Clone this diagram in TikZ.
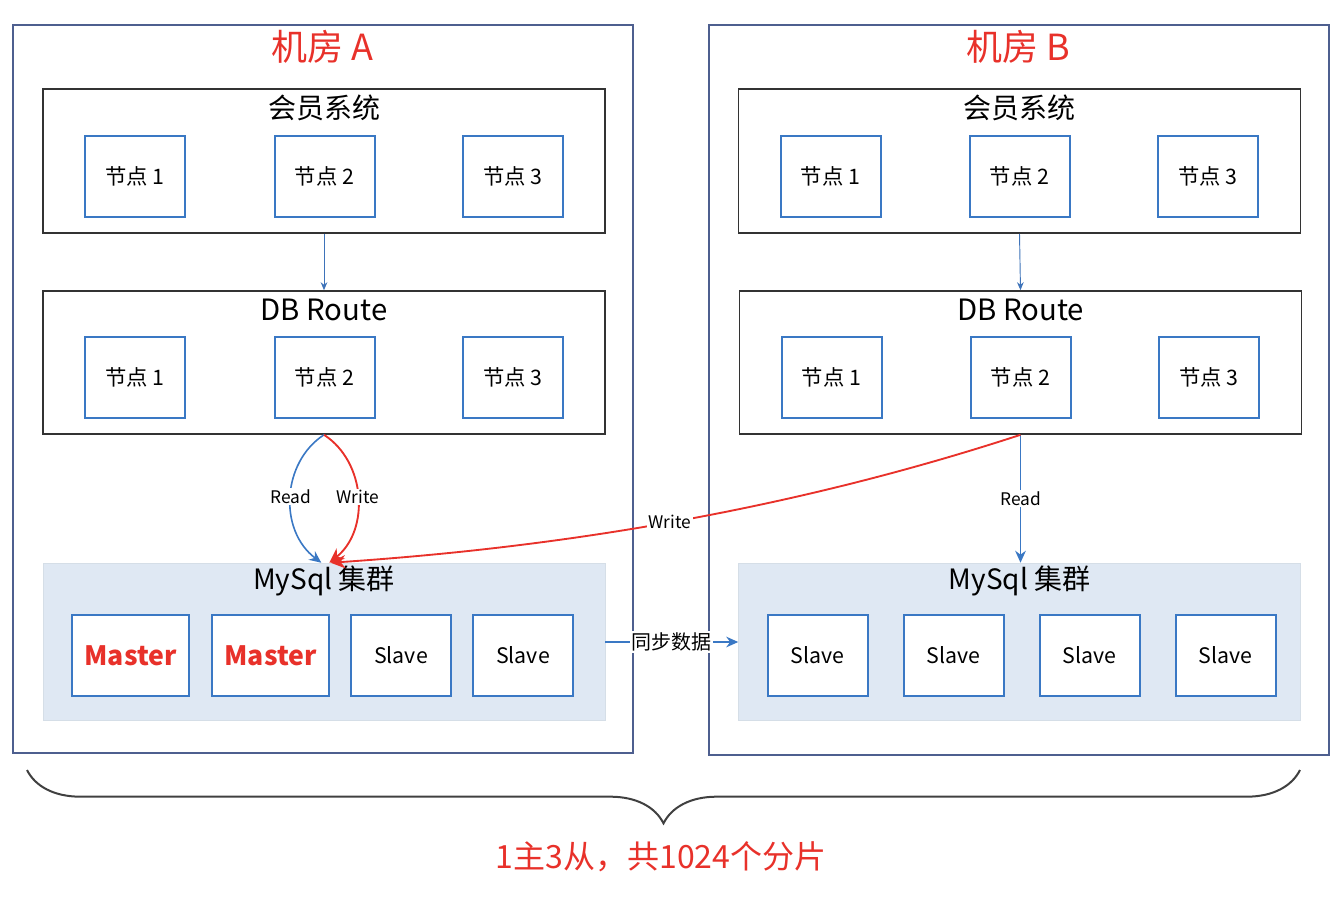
\documentclass[tikz,border=0pt]{standalone}
\usepackage{fontspec}
\setmainfont{Noto Sans CJK SC}
\usetikzlibrary{arrows.meta,decorations.pathreplacing}
\definecolor{roomc}{HTML}{4E5F8F}
\definecolor{nodeblue}{HTML}{3A78C4}
\definecolor{redc}{HTML}{E8312A}
\definecolor{clusterfill}{HTML}{DFE8F3}
\definecolor{groupc}{HTML}{333333}
\begin{document}
\begin{tikzpicture}[x=0.75pt,y=-0.75pt,
  room/.style={draw=roomc,line width=1.3pt,minimum width=465pt,minimum height=546pt,inner sep=0pt},
  group/.style={draw=groupc,line width=1.2pt,minimum width=421.5pt,minimum height=108pt,inner sep=0pt},
  cluster/.style={fill=clusterfill,draw=clusterfill!90!gray,line width=0.4pt,minimum width=421.5pt,minimum height=117.75pt,inner sep=0pt},
  nodebox/.style={draw=nodeblue,line width=1.5pt,fill=white,minimum width=75pt,minimum height=60.75pt,inner sep=0pt,font=\fontsize{16}{16}\selectfont},
  masterbox/.style={nodebox,minimum width=87.75pt,text=redc,font=\fontsize{20}{20}\selectfont\bfseries},
  slavebox/.style={nodebox,font=\fontsize{16}{16}\selectfont},
  roomtitle/.style={text=redc,font=\fontsize{27}{27}\selectfont},
  grouptitle/.style={font=\fontsize{21}{21}\selectfont},
  lbl/.style={fill=white,inner sep=1pt,font=\fontsize{13}{13}\selectfont},
  bluearrow/.style={draw=nodeblue,line width=1.2pt,-{Stealth[length=9pt,width=8pt]}},
  thinarrow/.style={draw=nodeblue!80!roomc,line width=0.7pt,-{Stealth[length=6pt,width=5pt]}},
  redarrow/.style={draw=redc,line width=1.4pt,-{Stealth[length=11pt,width=10pt]}}
]
\useasboundingbox (0,0) rectangle (1342,908);
% rooms
\node[room] (roomA) at (323,389) {};
\node[room,minimum height=547.5pt] (roomB) at (1019,390) {};
\node[roomtitle] (titleA) at (322,47) {机房 A};
\node[roomtitle] (titleB) at (1018,47) {机房 B};
% --- Room A ---
\node[group] (vipA) at (324,161) {};
\node[grouptitle] (vipAt) at (324,108) {会员系统};
\node[nodebox] (vA1) at (135,176.5) {节点 1};
\node[nodebox] (vA2) at (324.5,176.5) {节点 2};
\node[nodebox] (vA3) at (513,176.5) {节点 3};
\node[group,minimum height=107.25pt] (dbA) at (324,362.5) {};
\node[grouptitle,font=\fontsize{22}{22}\selectfont] (dbAt) at (324,310) {DB Route};
\node[nodebox] (dA1) at (135,377.5) {节点 1};
\node[nodebox] (dA2) at (324.5,377.5) {节点 2};
\node[nodebox] (dA3) at (513,377.5) {节点 3};
\node[cluster] (myA) at (324,641.5) {};
\node[grouptitle] (myAt) at (324,581) {MySql 集群};
\node[masterbox] (mA1) at (130.5,655.5) {Master};
\node[masterbox] (mA2) at (270.5,655.5) {Master};
\node[slavebox] (sA1) at (401,655.5) {Slave};
\node[slavebox] (sA2) at (523,655.5) {Slave};
% --- Room B ---
\node[group] (vipB) at (1019.5,161) {};
\node[grouptitle] (vipBt) at (1019.5,108) {会员系统};
\node[nodebox] (vB1) at (830.5,176.5) {节点 1};
\node[nodebox] (vB2) at (1019.5,176.5) {节点 2};
\node[nodebox] (vB3) at (1208,176.5) {节点 3};
\node[group,minimum height=107.25pt] (dbB) at (1020.5,362.5) {};
\node[grouptitle,font=\fontsize{22}{22}\selectfont] (dbBt) at (1020.5,310) {DB Route};
\node[nodebox] (dB1) at (831.5,377.5) {节点 1};
\node[nodebox] (dB2) at (1020.5,377.5) {节点 2};
\node[nodebox] (dB3) at (1209,377.5) {节点 3};
\node[cluster] (myB) at (1019.5,641.5) {};
\node[grouptitle] (myBt) at (1019.5,581) {MySql 集群};
\node[slavebox] (sB1) at (817.5,655.5) {Slave};
\node[slavebox] (sB2) at (953.5,655.5) {Slave};
\node[slavebox] (sB3) at (1089.5,655.5) {Slave};
\node[slavebox] (sB4) at (1225.5,655.5) {Slave};
% --- connectors ---
\draw[thinarrow] (vipA.south) -- (dbA.north);
\draw[thinarrow] (vipB.south) -- (dbB.north);
\draw[bluearrow] (dbA.south) .. controls (282,462) and (278,530) .. ([xshift=-2pt]myA.north)
  node[lbl,pos=0.5] {Read};
\draw[redarrow] (dbA.south) .. controls (366,462) and (370,530) .. ([xshift=4pt]myA.north)
  node[lbl,pos=0.5] {Write};
\draw[bluearrow] (dbB.south) -- (dbB.south |- myB.north) node[lbl,pos=0.5] {Read};
\draw[redarrow] (dbB.south) .. controls (760,520) and (520,550) .. ([xshift=5pt]myA.north)
  node[lbl,pos=0.47] {Write};
\draw[bluearrow] (myA.east |- 0,642) -- (myB.west |- 0,642) node[lbl,pos=0.5,font=\fontsize{15}{15}\selectfont] {同步数据};
% brace
\coordinate (brL) at (27,770);
\coordinate (brR) at (1300,770);
\draw[draw=black!75,line width=1.5pt,decorate,decoration={brace,mirror,amplitude=40pt}] (brL) -- (brR);
\node[text=redc,font=\fontsize{24}{24}\selectfont] (summary) at (661,857) {1主3从，共1024个分片};
\end{tikzpicture}
\end{document}
